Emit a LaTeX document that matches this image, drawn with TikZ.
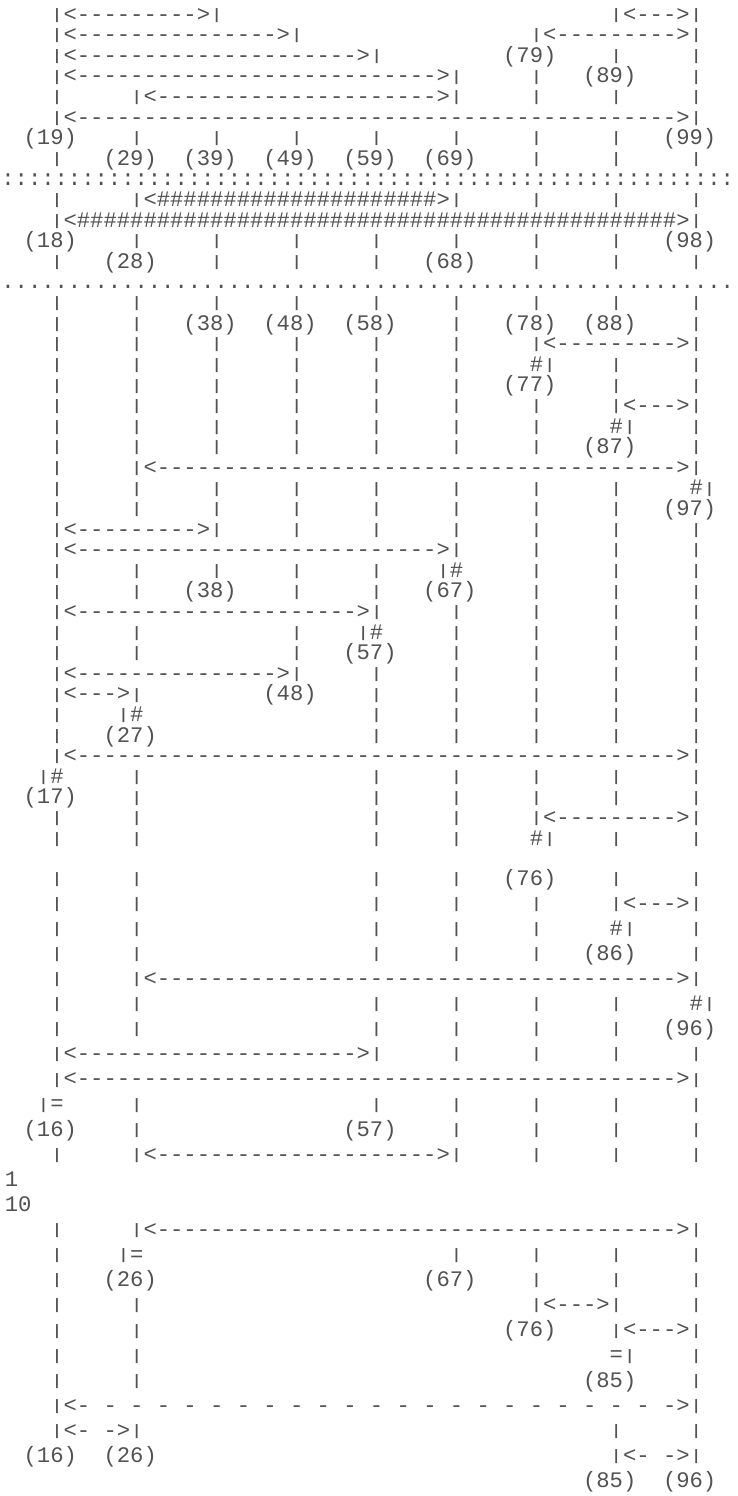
\documentclass[tikz,border=0pt]{standalone}
\usepackage{fontspec}
\setmonofont{Liberation Mono}
\usepackage{graphicx}
\usepackage{xcolor}
\usepackage{tikz}
\definecolor{inkgray}{RGB}{82,82,82}

\ExplSyntaxOn
\cs_new_eq:NN \repeatchar \prg_replicate:nn
\ExplSyntaxOff

% column left edge and row baseline, in pixels
\pgfmathdeclarefunction{colx}{1}{\pgfmathparse{-3.4+13.32*#1}}
\pgfmathdeclarefunction{rowy}{1}{\pgfmathparse{(#1<42)*(21+20.6*#1)+(#1>=42)*(885+25.1*(#1-42))}}

\newcommand{\vb}{\raisebox{0.08em}{\scalebox{1}[0.68]{|}}}
\newcommand{\spanarrow}[2]{\vb<\repeatchar{#1}{#2}>\vb}
\newcommand{\tok}[4]{\node[ascii] (#1) at ({colx(#2)},{rowy(#3)}) {#4};}
\newcommand{\bars}[2]{\foreach \col in {#2} {\node[ascii] (r#1c\col) at ({colx(\col)},{rowy(#1)}) {\vb};}}

\begin{document}
\begin{tikzpicture}[
  x=0.5pt, y=-0.5pt,
  ascii/.style={font=\ttfamily\fontsize{11.1}{11.1}\selectfont, text=inkgray, inner sep=0pt, anchor=base west}
]
\fill[white] (0,0) rectangle (738,1496);
\useasboundingbox (0,0) rectangle (738,1496);

\tok{r0a}{4}{0}{\spanarrow{9}{-}} \tok{r0b}{46}{0}{\spanarrow{3}{-}}
\tok{r1a}{4}{1}{\spanarrow{15}{-}} \tok{r1b}{40}{1}{\spanarrow{9}{-}}
\tok{r2a}{4}{2}{\spanarrow{21}{-}} \tok{r2b}{38}{2}{(79)} \bars{2}{46,52}
\tok{r3a}{4}{3}{\spanarrow{27}{-}} \bars{3}{40,52} \tok{r3b}{44}{3}{(89)}
\bars{4}{4,40,46,52} \tok{r4a}{10}{4}{\spanarrow{21}{-}}
\tok{r5a}{4}{5}{\spanarrow{45}{-}}
\tok{r6a}{2}{6}{(19)} \bars{6}{10,16,22,28,34,40,46} \tok{r6b}{50}{6}{(99)}
\bars{7}{4,40,46,52} \tok{r7a}{8}{7}{(29)} \tok{r7b}{14}{7}{(39)} \tok{r7c}{20}{7}{(49)} \tok{r7d}{26}{7}{(59)} \tok{r7e}{32}{7}{(69)}
\node[ascii] (r8a) at (1,{rowy(8)}) {\repeatchar{55}{:}};
\bars{9}{4,40,46,52} \tok{r9a}{10}{9}{\spanarrow{21}{\#}}
\tok{r10a}{4}{10}{\spanarrow{45}{\#}}
\tok{r11a}{2}{11}{(18)} \bars{11}{10,16,22,28,34,40,46} \tok{r11b}{50}{11}{(98)}
\bars{12}{4,16,22,28,40,46,52} \tok{r12a}{8}{12}{(28)} \tok{r12b}{32}{12}{(68)}
\node[ascii] (r13a) at (1,{rowy(13)}) {\repeatchar{55}{.}};
\bars{14}{4,10,16,22,28,34,40,46,52}
\bars{15}{4,10,34,52} \tok{r15a}{14}{15}{(38)} \tok{r15b}{20}{15}{(48)} \tok{r15c}{26}{15}{(58)} \tok{r15d}{38}{15}{(78)} \tok{r15e}{44}{15}{(88)}
\bars{16}{4,10,16,22,28,34} \tok{r16a}{40}{16}{\spanarrow{9}{-}}
\bars{17}{4,10,16,22,28,34,46,52} \tok{r17a}{40}{17}{\#\vb}
\bars{18}{4,10,16,22,28,34,46,52} \tok{r18a}{38}{18}{(77)}
\bars{19}{4,10,16,22,28,34,40} \tok{r19a}{46}{19}{\spanarrow{3}{-}}
\bars{20}{4,10,16,22,28,34,40,52} \tok{r20a}{46}{20}{\#\vb}
\bars{21}{4,10,16,22,28,34,40,52} \tok{r21a}{44}{21}{(87)}
\bars{22}{4} \tok{r22a}{10}{22}{\spanarrow{39}{-}}
\bars{23}{4,10,16,22,28,34,40,46} \tok{r23a}{52}{23}{\#\vb}
\bars{24}{4,10,16,22,28,34,40,46} \tok{r24a}{50}{24}{(97)}
\tok{r25a}{4}{25}{\spanarrow{9}{-}} \bars{25}{22,28,34,40,46,52}
\tok{r26a}{4}{26}{\spanarrow{27}{-}} \bars{26}{40,46,52}
\bars{27}{4,10,16,22,28,40,46,52} \tok{r27a}{33}{27}{\vb\#}
\bars{28}{4,10,22,28,40,46,52} \tok{r28a}{14}{28}{(38)} \tok{r28b}{32}{28}{(67)}
\tok{r29a}{4}{29}{\spanarrow{21}{-}} \bars{29}{34,40,46,52}
\bars{30}{4,10,22,34,40,46,52} \tok{r30a}{27}{30}{\vb\#}
\bars{31}{4,10,22,34,40,46,52} \tok{r31a}{26}{31}{(57)}
\tok{r32a}{4}{32}{\spanarrow{15}{-}} \bars{32}{28,34,40,46,52}
\tok{r33a}{4}{33}{\spanarrow{3}{-}} \tok{r33b}{20}{33}{(48)} \bars{33}{28,34,40,46,52}
\bars{34}{4,28,34,40,46,52} \tok{r34a}{9}{34}{\vb\#}
\bars{35}{4,28,34,40,46,52} \tok{r35a}{8}{35}{(27)}
\tok{r36a}{4}{36}{\spanarrow{45}{-}}
\tok{r37a}{3}{37}{\vb\#} \bars{37}{10,28,34,40,46,52}
\tok{r38a}{2}{38}{(17)} \bars{38}{10,28,34,40,46,52}
\bars{39}{4,10,28,34} \tok{r39a}{40}{39}{\spanarrow{9}{-}}
\bars{40}{4,10,28,34,46,52} \tok{r40a}{40}{40}{\#\vb}

\bars{42}{4,10,28,34,46,52} \tok{r42a}{38}{42}{(76)}
\bars{43}{4,10,28,34,40} \tok{r43a}{46}{43}{\spanarrow{3}{-}}
\bars{44}{4,10,28,34,40,52} \tok{r44a}{46}{44}{\#\vb}
\bars{45}{4,10,28,34,40,52} \tok{r45a}{44}{45}{(86)}
\bars{46}{4} \tok{r46a}{10}{46}{\spanarrow{39}{-}}
\bars{47}{4,10,28,34,40,46} \tok{r47a}{52}{47}{\#\vb}
\bars{48}{4,10,28,34,40,46} \tok{r48a}{50}{48}{(96)}
\tok{r49a}{4}{49}{\spanarrow{21}{-}} \bars{49}{34,40,46,52}
\tok{r50a}{4}{50}{\spanarrow{45}{-}}
\tok{r51a}{3}{51}{\vb=} \bars{51}{10,28,34,40,46,52}
\tok{r52a}{2}{52}{(16)} \bars{52}{10,34,40,46,52} \tok{r52b}{26}{52}{(57)}
\bars{53}{4,40,46,52} \tok{r53a}{10}{53}{\spanarrow{21}{-}}
\node[ascii] (one) at (4.5,{rowy(54)}) {1};
\node[ascii] (ten) at (4.5,{rowy(55)}) {10};
\bars{56}{4} \tok{r56a}{10}{56}{\spanarrow{39}{-}}
\bars{57}{4,34,40,46,52} \tok{r57a}{9}{57}{\vb=}
\bars{58}{4,40,46,52} \tok{r58a}{8}{58}{(26)} \tok{r58b}{32}{58}{(67)}
\bars{59}{4,10,52} \tok{r59a}{40}{59}{\spanarrow{3}{-}}
\bars{60}{4,10} \tok{r60a}{38}{60}{(76)} \tok{r60b}{46}{60}{\spanarrow{3}{-}}
\bars{61}{4,10,52} \tok{r61a}{46}{61}{=\vb}
\bars{62}{4,10,52} \tok{r62a}{44}{62}{(85)}
\tok{r63a}{4}{63}{\vb<\repeatchar{22}{- }->\vb}
\tok{r64a}{4}{64}{\vb<- ->\vb} \bars{64}{46,52}
\tok{r65a}{2}{65}{(16)} \tok{r65b}{8}{65}{(26)} \tok{r65c}{46}{65}{\vb<- ->\vb}
\tok{r66a}{44}{66}{(85)} \tok{r66b}{50}{66}{(96)}
\end{tikzpicture}
\end{document}
